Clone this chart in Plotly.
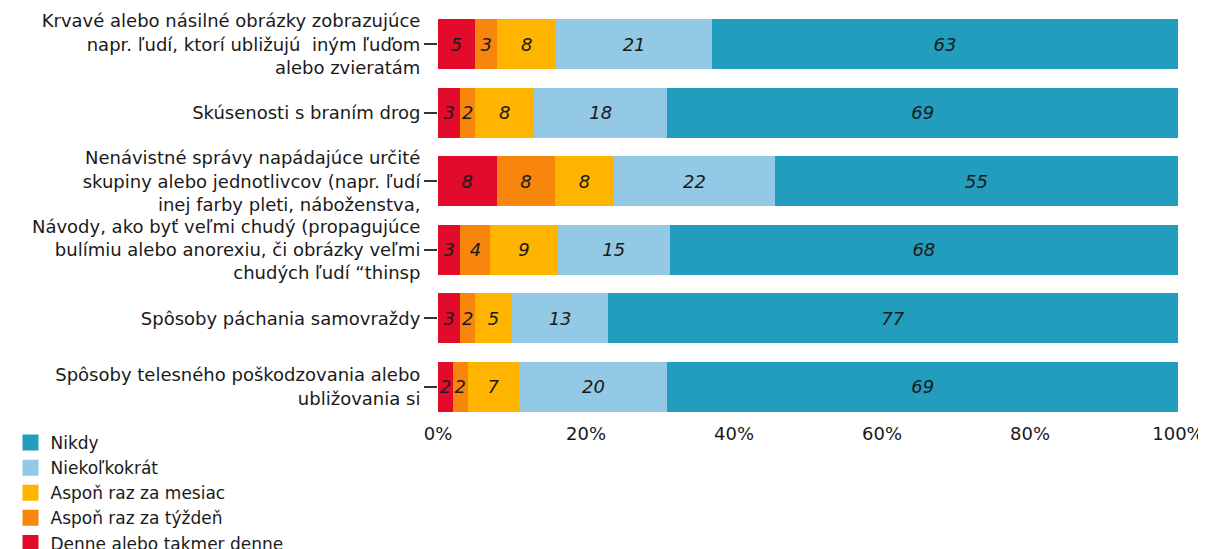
import plotly.graph_objects as go

categories = [
    "Krvavé alebo násilné obrázky zobrazujúce<br>napr. ľudí, ktorí ubližujú  iným ľuďom<br>alebo zvieratám",
    "Skúsenosti s braním drog",
    "Nenávistné správy napádajúce určité<br>skupiny alebo jednotlivcov (napr. ľudí<br>inej farby pleti, náboženstva,",
    "Návody, ako byť veľmi chudý (propagujúce<br>bulímiu alebo anorexiu, či obrázky veľmi<br>chudých ľudí “thinsp",
    "Spôsoby páchania samovraždy",
    "Spôsoby telesného poškodzovania alebo<br>ubližovania si",
]

denne = [5, 3, 8, 3, 3, 2]
tyzden = [3, 2, 8, 4, 2, 2]
mesiac = [8, 8, 8, 9, 5, 7]
niekolkokrat = [21, 18, 22, 15, 13, 20]
nikdy = [63, 69, 55, 68, 77, 69]

series_names = [
    "Denne alebo takmer denne",
    "Aspoň raz za týždeň",
    "Aspoň raz za mesiac",
    "Niekoľkokrát",
    "Nikdy",
]
series_values = [denne, tyzden, mesiac, niekolkokrat, nikdy]
series_colors = ["#E30B2C", "#F8860C", "#FFB400", "#93C9E5", "#229DBD"]

x_ticks = [0, 20, 40, 60, 80, 100]
x_tick_labels = ["0%", "20%", "40%", "60%", "80%", "100%"]

FONT = "DejaVu Sans"
W, H = 1198, 541  # page adds an 8px body margin

fig = go.Figure()
for name, vals, col in zip(series_names, series_values, series_colors):
    fig.add_trace(go.Bar(
        y=categories, x=vals, orientation="h", name=name,
        marker=dict(color=col, line=dict(width=0)),
        text=[str(v) for v in vals], textposition="inside",
        insidetextanchor="middle", textangle=0,
        textfont=dict(family=FONT, size=18, color="#1a1a1a", style="italic"),
        showlegend=False,
    ))

# legend entries (square swatches)
for name, col in zip(series_names, series_colors):
    fig.add_trace(go.Scatter(
        x=[None], y=[None], mode="markers", name=name,
        marker=dict(symbol="square", size=18, color=col),
        showlegend=True,
    ))

fig.update_layout(
    width=W, height=H,
    margin=dict(l=430, r=28, t=2, b=128, autoexpand=False),
    barmode="stack", barnorm="percent", bargap=0.27,
    plot_bgcolor="white", paper_bgcolor="white",
    uniformtext=dict(minsize=18, mode="show"),
    font=dict(family=FONT, size=18, color="#1a1a1a"),
    legend=dict(
        xref="container", yref="container", x=2.5 / W, y=1 - 417 / H,
        xanchor="left", yanchor="top", traceorder="reversed",
        font=dict(family=FONT, size=17, color="#1a1a1a"),
        bgcolor="rgba(0,0,0,0)", tracegroupgap=0, itemsizing="trace",
        maxheight=300,
    ),
    xaxis=dict(
        range=[0, 100], tickvals=x_ticks, ticktext=x_tick_labels,
        showgrid=False, zeroline=False, showline=False, ticks="",
        tickfont=dict(family=FONT, size=18, color="#1a1a1a"),
    ),
    yaxis=dict(
        categoryorder="array", categoryarray=categories, autorange="reversed",
        showgrid=False, zeroline=False, showline=False,
        ticks="outside", ticklen=13, tickwidth=2, tickcolor="#333333",
        tickfont=dict(family=FONT, size=18, color="#1a1a1a"),
    ),
)

fig.write_html("out.html")
